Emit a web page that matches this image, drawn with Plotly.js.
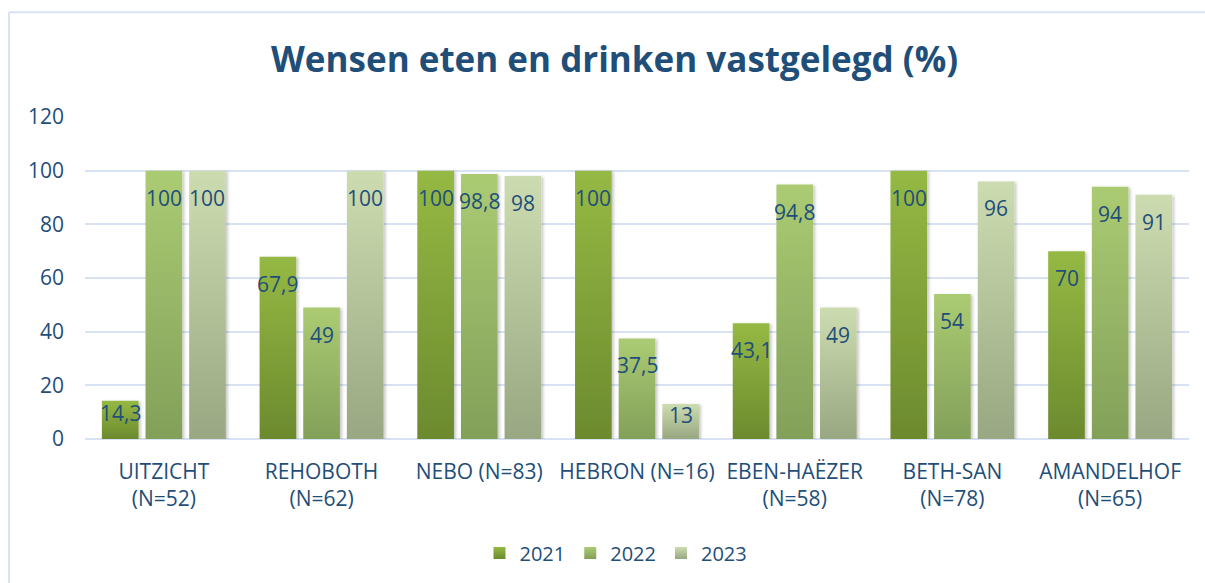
<!DOCTYPE html>
<html><head><meta charset="utf-8">
<script src="https://cdn.plot.ly/plotly-3.0.1.min.js"></script>
<style>html,body{margin:0;padding:0;background:#fff}#chart{width:1205px;height:583px}</style>
</head><body><div id="chart"></div>
<script>
const categories = ["UITZICHT<br>(N=52)","REHOBOTH<br>(N=62)","NEBO (N=83)","HEBRON (N=16)","EBEN-HAËZER<br>(N=58)","BETH-SAN<br>(N=78)","AMANDELHOF<br>(N=65)"];
const years = ["2021","2022","2023"];
const v2021 = [14.3, 67.9, 100, 100, 43.1, 100, 70];
const v2022 = [100, 49, 98.8, 37.5, 94.8, 54, 94];
const v2023 = [100, 100, 98, 13, 49, 96, 91];
const yTicks = [0, 20, 40, 60, 80, 100, 120];
const titleText = "Wensen eten en drinken vastgelegd (%)";

const series = [v2021, v2022, v2023];
const topColors = ["#95b944", "#abcb73", "#cddcb0"];
const bottomColors = ["#6c8a2e", "#83a059", "#99a782"];
const midColors = ["#82a23a", "#98b566", "#b4c29a"];
const textColor = "#1f4e79";
const gridColor = "#d9e2f3";
const FONT = "'Open Sans', 'Noto Sans', sans-serif";

const W = 1205, H = 583;
const M = {l: 85, r: 16, t: 117, b: 143};
const bargap = 0.17;
const plotW = W - M.l - M.r, plotH = H - M.t - M.b;
const yMax = 120;
const pxPerUnit = plotH / yMax;
const catPx = plotW / categories.length;
const pitch = catPx * (1 - bargap) / series.length;

const traces = series.map((vals, i) => ({
  type: 'bar',
  name: years[i],
  x: categories,
  y: vals,
  marker: {color: midColors[i], line: {width: 0}},
  hoverinfo: 'none'
}));

const fmt = v => String(v).replace('.', ',');
const annotations = [];
series.forEach((vals, i) => {
  vals.forEach((v, j) => {
    const barPx = v * pxPerUnit;
    annotations.push({
      x: categories[j], y: v, xref: 'x', yref: 'y',
      text: fmt(v), showarrow: false,
      xanchor: 'center', yanchor: 'middle',
      xshift: (i - 1) * pitch,
      yshift: -Math.min(27, barPx * 0.31),
      font: {family: FONT, size: 21, color: textColor}
    });
  });
});

const px2x = p => (p - M.l) / plotW;
const py2y = p => (H - M.b - p) / plotH;

const layout = {
  width: W, height: H,
  margin: M,
  paper_bgcolor: '#ffffff', plot_bgcolor: '#ffffff',
  barmode: 'group', bargap: bargap, bargroupgap: 0.16,
  title: {
    text: '<b>' + titleText + '</b>',
    font: {family: FONT, size: 35, color: textColor},
    x: 0.51, xref: 'container', xanchor: 'center',
    y: 1 - 60 / H, yref: 'container', yanchor: 'middle'
  },
  xaxis: {
    type: 'category',
    tickfont: {family: FONT, size: 21, color: textColor},
    showgrid: false, showline: false, zeroline: false,
    ticks: '', ticklabelstandoff: 18, automargin: false
  },
  yaxis: {
    range: [0, yMax], tickvals: yTicks, ticktext: yTicks.map(String),
    tickfont: {family: FONT, size: 21, color: textColor},
    showgrid: true, gridcolor: gridColor, gridwidth: 2,
    zeroline: true, zerolinecolor: gridColor, zerolinewidth: 2,
    showline: false, ticks: '', ticklabelstandoff: 20, automargin: false
  },
  showlegend: true,
  legend: {
    orientation: 'h', x: px2x(616), xanchor: 'center',
    y: py2y(553), yanchor: 'middle',
    font: {family: FONT, size: 20, color: textColor},
    traceorder: 'normal', bgcolor: 'rgba(0,0,0,0)'
  },
  annotations: annotations,
  shapes: [
    {type: 'line', xref: 'paper', yref: 'paper', x0: px2x(9), x1: px2x(W + 5), y0: py2y(12), y1: py2y(12), line: {color: gridColor, width: 2}},
    {type: 'line', xref: 'paper', yref: 'paper', x0: px2x(9), x1: px2x(9), y0: py2y(12), y1: py2y(H + 5), line: {color: gridColor, width: 2}}
  ]
};

const gd = document.getElementById('chart');
const NS = 'http://www.w3.org/2000/svg';

function applyGradients() {
  const svg = gd.querySelector('svg.main-svg');
  if (!svg) return;
  if (!svg.querySelector('#customdefs')) {
    const defs = document.createElementNS(NS, 'defs');
    defs.setAttribute('id', 'customdefs');
    series.forEach((_, i) => {
      const g = document.createElementNS(NS, 'linearGradient');
      g.setAttribute('id', 'grad' + i);
      g.setAttribute('x1', '0'); g.setAttribute('y1', '0');
      g.setAttribute('x2', '0'); g.setAttribute('y2', '1');
      [[0, topColors[i]], [1, bottomColors[i]]].forEach(([o, c]) => {
        const s = document.createElementNS(NS, 'stop');
        s.setAttribute('offset', o);
        s.setAttribute('stop-color', c);
        g.appendChild(s);
      });
      defs.appendChild(g);
    });
    const f = document.createElementNS(NS, 'filter');
    f.setAttribute('id', 'bshadow');
    f.setAttribute('x', '-20%'); f.setAttribute('y', '-5%');
    f.setAttribute('width', '150%'); f.setAttribute('height', '115%');
    const ds = document.createElementNS(NS, 'feDropShadow');
    ds.setAttribute('dx', '2'); ds.setAttribute('dy', '1');
    ds.setAttribute('stdDeviation', '1.5');
    ds.setAttribute('flood-color', '#000'); ds.setAttribute('flood-opacity', '0.22');
    f.appendChild(ds);
    defs.appendChild(f);
    svg.insertBefore(defs, svg.firstChild);
  }
  gd.querySelectorAll('.barlayer .trace').forEach((tr, i) => {
    tr.querySelectorAll('.point path').forEach(p => {
      p.style.fill = 'url(#grad' + i + ')';
      p.setAttribute('filter', 'url(#bshadow)');
    });
  });
  gd.querySelectorAll('.legend .traces').forEach((tr, i) => {
    tr.querySelectorAll('.legendpoints path').forEach(p => {
      p.style.fill = 'url(#grad' + i + ')';
    });
  });
}

Plotly.newPlot(gd, traces, layout, {staticPlot: true, displayModeBar: false}).then(() => {
  applyGradients();
  gd.on('plotly_afterplot', applyGradients);
});
</script>
</body></html>
